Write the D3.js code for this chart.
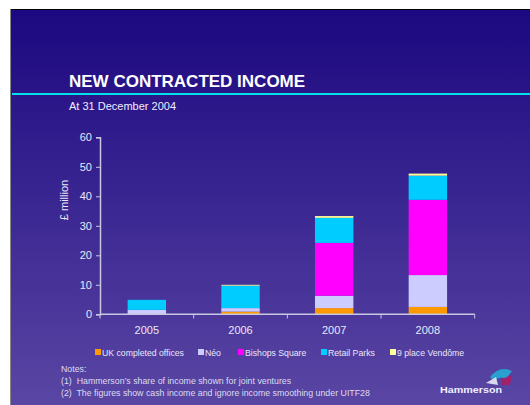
<!DOCTYPE html>
<html>
<head>
<meta charset="utf-8">
<script src="https://cdn.jsdelivr.net/npm/d3@7/dist/d3.min.js"></script>
<style>
  body { margin: 0; background: #fff; }
  svg { display: block; font-family: "Liberation Sans", Arial, sans-serif; }
</style>
</head>
<body>
<div id="chart"></div>
<script>
// data
var years = ["2005", "2006", "2007", "2008"];
var seriesNames = ["UK completed offices", "Néo", "Bishops Square", "Retail Parks", "9 place Vendôme"];
var seriesColors = ["#ff9900", "#ccccff", "#ff00ff", "#00ccff", "#ffff99"];
var ukOffices = [0, 0.9, 2.1, 2.5];
var neo = [1.5, 1.2, 4.2, 10.8];
var bishops = [0, 0, 17.9, 25.5];
var retailParks = [3.4, 7.6, 8.5, 8.2];
var vendome = [0, 0.3, 0.6, 0.7];
var yTicks = [0, 10, 20, 30, 40, 50, 60];

var width = 530, height = 405;
var svg = d3.select("#chart").append("svg")
    .attr("width", width)
    .attr("height", height);

// slide background
var grad = svg.append("defs").append("linearGradient")
    .attr("id", "bg").attr("x1", 0).attr("y1", 0).attr("x2", 0).attr("y2", 1);
grad.append("stop").attr("offset", "0%").attr("stop-color", "#1c0880");
grad.append("stop").attr("offset", "100%").attr("stop-color", "#5a46a3");

svg.append("rect").attr("x", 10).attr("y", 9).attr("width", width - 10).attr("height", height - 9)
    .attr("fill", "url(#bg)");
svg.append("line").attr("x1", 10).attr("x2", width).attr("y1", 9.5).attr("y2", 9.5)
    .attr("stroke", "#000").attr("stroke-width", 1);
svg.append("line").attr("x1", 10.5).attr("x2", 10.5).attr("y1", 9).attr("y2", height)
    .attr("stroke", "#888").attr("stroke-width", 1);

// title
svg.append("text").attr("x", 69).attr("y", 87)
    .attr("fill", "#fff").attr("font-size", 17).attr("font-weight", "bold")
    .text("NEW CONTRACTED INCOME");
svg.append("line").attr("x1", 12).attr("x2", width).attr("y1", 94).attr("y2", 94)
    .attr("stroke", "#00e0e8").attr("stroke-width", 2);
svg.append("text").attr("x", 69).attr("y", 110)
    .attr("fill", "#eeeeff").attr("font-size", 11)
    .text("At 31 December 2004");

// scales
var x = d3.scaleBand().domain(years).range([100, 474.7]).paddingInner(0.59).paddingOuter(0.295);
var y = d3.scaleLinear().domain([0, 60]).range([314.3, 137.3]);

var rows = years.map(function (yr, i) {
    return { year: yr, s0: ukOffices[i], s1: neo[i], s2: bishops[i], s3: retailParks[i], s4: vendome[i] };
});
var stack = d3.stack().keys(["s0", "s1", "s2", "s3", "s4"]);
var layers = stack(rows);

var axisColor = "#c8c8e0";

// y axis
var yAxis = svg.append("g").attr("transform", "translate(100,0)")
    .call(d3.axisLeft(y).tickValues(yTicks).tickSize(4).tickPadding(4));
yAxis.select(".domain").attr("stroke", axisColor).attr("stroke-width", 1.5);
yAxis.selectAll(".tick line").attr("stroke", axisColor);
yAxis.selectAll(".tick text").attr("fill", "#e8e8f8").attr("font-size", 11)
    .attr("font-family", "Liberation Sans, Arial, sans-serif");

svg.append("text")
    .attr("transform", "translate(68,200) rotate(-90)")
    .attr("text-anchor", "middle")
    .attr("fill", "#e8e8f8").attr("font-size", 11)
    .text("£ million");

// bars
svg.append("g").selectAll("g")
    .data(layers)
    .join("g")
    .attr("fill", function (d, i) { return seriesColors[i]; })
    .selectAll("rect")
    .data(function (d) { return d; })
    .join("rect")
    .attr("x", function (d) { return x(d.data.year); })
    .attr("width", x.bandwidth())
    .attr("y", function (d) { return y(d[1]); })
    .attr("height", function (d) { return y(d[0]) - y(d[1]); });

// x axis
var xBound = d3.scaleLinear().domain([0, 4]).range([100, 474.7]);
svg.append("line").attr("x1", 100).attr("x2", 474.7).attr("y1", 314.3).attr("y2", 314.3)
    .attr("stroke", axisColor).attr("stroke-width", 1.5);
svg.append("g").selectAll("line")
    .data(d3.range(5))
    .join("line")
    .attr("x1", function (d) { return xBound(d); })
    .attr("x2", function (d) { return xBound(d); })
    .attr("y1", 314.3).attr("y2", 318.5)
    .attr("stroke", axisColor);
svg.append("g").selectAll("text")
    .data(years)
    .join("text")
    .attr("x", function (d) { return x(d) + x.bandwidth() / 2; })
    .attr("y", 334)
    .attr("text-anchor", "middle")
    .attr("fill", "#e8e8f8").attr("font-size", 11)
    .text(function (d) { return d; });

// legend
var legendX = [95, 198, 238, 321, 390];
var legend = svg.append("g").selectAll("g")
    .data(seriesNames)
    .join("g")
    .attr("transform", function (d, i) { return "translate(" + legendX[i] + ",349)"; });
legend.append("rect").attr("width", 6).attr("height", 6)
    .attr("fill", function (d, i) { return seriesColors[i]; });
legend.append("text").attr("x", 7).attr("y", 6.5)
    .attr("fill", "#e8e8f8").attr("font-size", 8.7)
    .text(function (d) { return d; });

// notes
var notes = ["Notes:",
    "(1)  Hammerson\u2019s share of income shown for joint ventures",
    "(2)  The figures show cash income and ignore income smoothing under UITF28"];
svg.append("g").selectAll("text")
    .data(notes)
    .join("text")
    .attr("x", 61)
    .attr("y", function (d, i) { return 372 + i * 12; })
    .attr("fill", "#dcdcf0").attr("font-size", 8.8)
    .attr("xml:space", "preserve")
    .text(function (d) { return d; });

// logo
var logo = svg.append("g").attr("transform", "translate(440,393)");
logo.append("text").attr("x", 0).attr("y", 0)
    .attr("fill", "#f0f0ff").attr("font-size", 9.5).attr("font-weight", "bold")
    .attr("textLength", 62).attr("lengthAdjust", "spacingAndGlyphs")
    .text("Hammerson");
logo.append("path").attr("d", "M50,-16 Q60,-28 72,-22 L66,-14 Q60,-18 54,-12 Z").attr("fill", "#2aa0d0");
logo.append("path").attr("d", "M62,-14 L72,-18 L70,-8 L62,-8 Z").attr("fill", "#a0206a");
logo.append("path").attr("d", "M46,-10 L56,-16 L58,-8 Z").attr("fill", "#d8d8ee");
</script>
</body>
</html>
